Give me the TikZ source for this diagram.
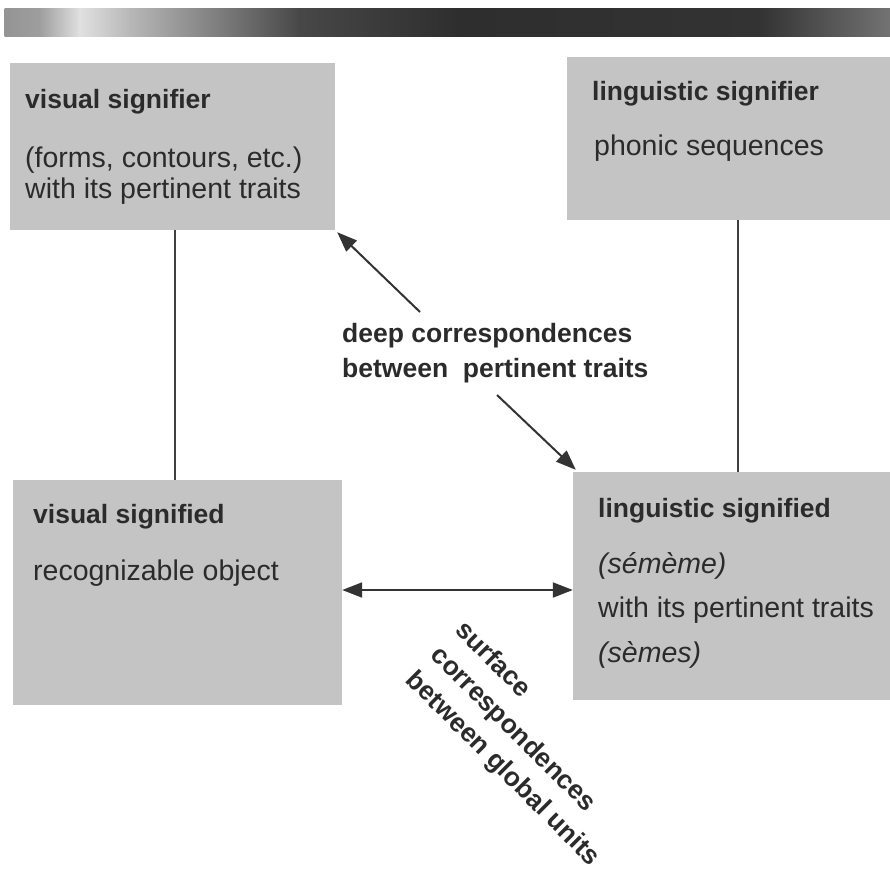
\documentclass[tikz,border=0pt]{standalone}
\usepackage{fontspec}
\setmainfont{Liberation Sans}
\usetikzlibrary{arrows.meta}
\definecolor{boxgray}{HTML}{C4C4C4}
\definecolor{ink}{HTML}{2B2B2B}
\begin{document}
\begin{tikzpicture}
  [x=1pt,y=-1pt,
   box/.style={rectangle,fill=boxgray,inner sep=0pt},
   boxtitle/.style={anchor=base west,inner sep=0pt,text=ink,
     font=\bfseries\fontsize{26.5}{30}\selectfont},
   boxtext/.style={anchor=base west,inner sep=0pt,text=ink,
     font=\fontsize{28.5}{32}\selectfont},
   note/.style={inner sep=0pt,text=ink,align=left,
     font=\bfseries\fontsize{26.5}{35}\selectfont},
   link/.style={draw=black!75,line width=1.6pt},
   arr/.style={draw=black!80,line width=2pt,
     -{Triangle[length=20pt,width=15pt]}},
   dblarr/.style={draw=black!80,line width=2pt,
     {Triangle[length=20pt,width=15pt]}-{Triangle[length=20pt,width=15pt]}}]
  \useasboundingbox (0,0) rectangle (890,873);

  % shaded bar on top
  \foreach \xa/\xb/\ca/\cb in {5/40/black!42/black!38,40/80/black!38/black!12,
      80/130/black!12/black!28,130/300/black!28/black!72,300/460/black!72/black!82,
      460/760/black!82/black!80,760/890/black!80/black!55}
    \shade[left color=\ca,right color=\cb] (\xa-0.5,8) rectangle (\xb+0.5,36);

  % the four boxes
  \node[box,minimum width=325pt,minimum height=167pt] (vsr) at (172.5,146.5) {};
  \node[box,minimum width=323pt,minimum height=163pt] (lsr) at (728.5,138.5) {};
  \node[box,minimum width=329pt,minimum height=225pt] (vsd) at (177.5,592.5) {};
  \node[box,minimum width=317pt,minimum height=228pt] (lsd) at (731.5,586) {};

  \node[boxtitle] (vsrt) at (25,108) {visual signifier};
  \node[boxtext]  (vsr1) at (25,167) {(forms, contours, etc.)};
  \node[boxtext]  (vsr2) at (25,198) {with its pertinent traits};

  \node[boxtitle] (lsrt) at (592,100) {linguistic signifier};
  \node[boxtext]  (lsr1) at (594,155) {phonic sequences};

  \node[boxtitle] (vsdt) at (33,523) {visual signified};
  \node[boxtext]  (vsd1) at (33,580) {recognizable object};

  \node[boxtitle] (lsdt) at (598,517) {linguistic signified};
  \node[boxtext]  (lsd1) at (598,573) {\itshape (sémème)};
  \node[boxtext]  (lsd2) at (598,617) {with its pertinent traits};
  \node[boxtext]  (lsd3) at (598,662) {\itshape (sèmes)};

  % correspondences
  \node[note,anchor=north west] (deep) at (342,323)
    {deep correspondences\\between\ \ pertinent traits};
  \node[note,anchor=north west,rotate=-45] (surf) at (468,618)
    {surface\\correspondences\\between global units};

  \coordinate (dtail1) at (420,312);
  \coordinate (dtail2) at (497,395);

  \draw[link] ([xshift=2.5pt]vsr.south) -- ([xshift=-2.5pt]vsd.north);
  \draw[link] ([xshift=9.5pt]lsr.south) -- ([xshift=6.5pt]lsd.north);
  \draw[arr] (dtail1) -- ([shift={(2pt,-2pt)}]vsr.south east);
  \draw[arr] (dtail2) -- ([shift={(3pt,2pt)}]lsd.north west);
  \draw[dblarr] ([yshift=2.5pt]vsd.east) -- ([yshift=-4pt]lsd.west);
\end{tikzpicture}
\end{document}
